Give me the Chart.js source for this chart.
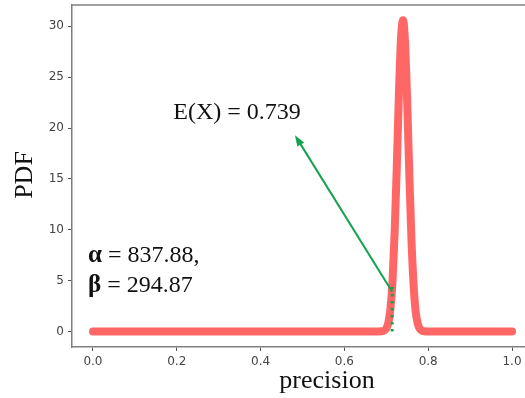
<!DOCTYPE html>
<html>
<head>
<meta charset="utf-8">
<script src="https://cdn.jsdelivr.net/npm/chart.js@4/dist/chart.umd.min.js"></script>
<style>
  html, body { margin: 0; padding: 0; background: #fff; }
  #wrap { width: 525px; height: 398px; }
</style>
</head>
<body>
<div id="wrap"><canvas id="grafico" width="525" height="398"></canvas></div>
<script>
// precision values and the density
const precision = [0, 0.2, 0.4, 0.6, 0.68, 0.69, 0.695, 0.70, 0.705, 0.71, 0.715, 0.72, 0.725, 0.73, 0.735, 0.74,
  0.745, 0.75, 0.755, 0.76, 0.765, 0.77, 0.775, 0.78, 0.785, 0.79, 0.80, 0.9, 1.0];
const pdf = [0, 0, 0, 0, 0, 0.01, 0.09, 0.29, 0.87, 2.27, 5.0, 9.8, 16.1, 23.2, 28.7, 30.6,
  28.2, 22.4, 15.4, 9.1, 4.7, 2.0, 0.78, 0.26, 0.07, 0.02, 0, 0, 0];
const xTicks = [0, 0.2, 0.4, 0.6, 0.8, 1.0];
const yTicks = [0, 5, 10, 15, 20, 25, 30];

// annotation anchors, in data units
const meanX = 0.714;
const meanTop = 4.8;
const arrowFrom = [0.714, 3.9];
const arrowTo = [0.482, 19.3];
const meanLabel = 'E(X) = 0.739';
const alphaText = '837.88,';
const betaText = '294.87';

const green = '#13a24e';
const serif = '"Liberation Serif", "DejaVu Serif", serif';

const extras = {
  id: 'extras',
  afterDatasetsDraw(chart) {
    const c = chart.ctx;
    const x = chart.scales.x, y = chart.scales.y;
    const a = chart.chartArea;
    c.save();
    // top frame line
    c.strokeStyle = '#808080';
    c.lineWidth = 1.5;
    c.beginPath();
    c.moveTo(a.left, a.top);
    c.lineTo(a.right, a.top);
    c.stroke();

    // dotted mean line
    c.strokeStyle = green;
    c.lineWidth = 3;
    c.setLineDash([2.5, 4.5]);
    c.beginPath();
    c.moveTo(x.getPixelForValue(meanX), y.getPixelForValue(0));
    c.lineTo(x.getPixelForValue(meanX), y.getPixelForValue(meanTop));
    c.stroke();
    c.setLineDash([]);

    // arrow
    const x0 = x.getPixelForValue(arrowFrom[0]), y0 = y.getPixelForValue(arrowFrom[1]);
    const x1 = x.getPixelForValue(arrowTo[0]), y1 = y.getPixelForValue(arrowTo[1]);
    const ang = Math.atan2(y1 - y0, x1 - x0);
    const head = 11;
    c.strokeStyle = green;
    c.fillStyle = green;
    c.lineWidth = 2;
    c.beginPath();
    c.moveTo(x0, y0);
    c.lineTo(x1 - Math.cos(ang) * head * 0.8, y1 - Math.sin(ang) * head * 0.8);
    c.stroke();
    c.beginPath();
    c.moveTo(x1, y1);
    c.lineTo(x1 - head * Math.cos(ang) + 4 * Math.sin(ang), y1 - head * Math.sin(ang) - 4 * Math.cos(ang));
    c.lineTo(x1 - head * Math.cos(ang) - 4 * Math.sin(ang), y1 - head * Math.sin(ang) + 4 * Math.cos(ang));
    c.closePath();
    c.fill();

    // texts
    c.fillStyle = '#111';
    c.textBaseline = 'middle';
    c.font = '24px ' + serif;
    c.textAlign = 'center';
    c.fillText(meanLabel, 237, 113);

    c.textAlign = 'left';
    c.font = 'bold 25px ' + serif;
    c.fillText('\u03b1', 88, 256);
    c.fillText('\u03b2', 88, 286);
    const wa = c.measureText('\u03b1').width;
    const wb = c.measureText('\u03b2').width;
    c.font = '24px ' + serif;
    c.fillText(' = ' + alphaText, 88 + wa, 256);
    c.fillText(' = ' + betaText, 88 + wb, 286);

    // axis titles
    c.font = '26px ' + serif;
    c.textAlign = 'center';
    c.fillText('precision', 327, 381);
    c.translate(25, 175);
    c.rotate(-Math.PI / 2);
    c.fillText('PDF', 0, 0);
    c.restore();
  }
};

const tickFont = { family: '"DejaVu Sans", sans-serif', size: 12 };

new Chart(document.getElementById('grafico').getContext('2d'), {
  type: 'line',
  data: {
    datasets: [{
      data: precision.map((p, i) => ({ x: p, y: pdf[i] })),
      borderColor: 'rgba(255, 90, 90, 0.92)',
      borderWidth: 8,
      borderCapStyle: 'round',
      borderJoinStyle: 'round',
      cubicInterpolationMode: 'monotone',
      pointRadius: 0,
      fill: false
    }]
  },
  options: {
    responsive: false,
    animation: false,
    layout: { autoPadding: false, padding: { top: 5, right: 0, left: 0, bottom: 0 } },
    plugins: { legend: { display: false }, tooltip: { enabled: false } },
    scales: {
      x: {
        type: 'linear',
        min: -0.05,
        max: 1.031,
        afterBuildTicks: s => { s.ticks = xTicks.map(v => ({ value: v })); },
        afterFit: s => { s.height = 51; s.paddingLeft = 0; s.paddingRight = 0; },
        grid: { drawOnChartArea: false, tickLength: 4, color: '#555', tickWidth: 1 },
        border: { color: '#808080', width: 1.5 },
        ticks: { font: tickFont, color: '#444', padding: 4, maxRotation: 0,
          callback: v => v.toFixed(1) }
      },
      y: {
        min: -1.53,
        max: 32.1,
        afterBuildTicks: s => { s.ticks = yTicks.map(v => ({ value: v })); },
        afterFit: s => { s.width = 72; s.paddingTop = 0; s.paddingBottom = 0; },
        grid: { drawOnChartArea: false, tickLength: 4, color: '#555', tickWidth: 1 },
        border: { color: '#808080', width: 1.5 },
        ticks: { font: tickFont, color: '#444', padding: 4 }
      }
    }
  },
  plugins: [extras]
});
</script>
</body>
</html>
